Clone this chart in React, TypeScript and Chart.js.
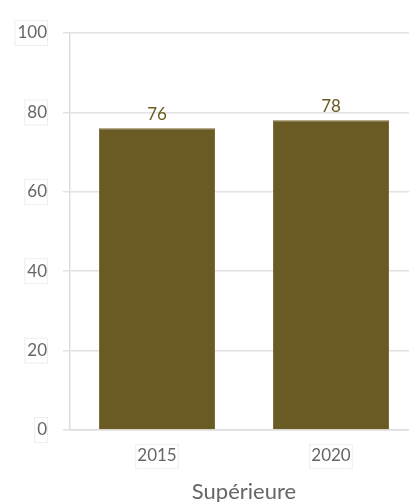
import React, { useEffect, useRef } from "react";
import { Chart, registerables } from "chart.js";

Chart.register(...registerables);

const categories = ["2015", "2020"];
const values = [76, 78];
const yTicks = [0, 20, 40, 60, 80, 100];
const axisTitle = "Supérieure";

const FONT = "Lato, 'Noto Sans', sans-serif";

const labelPlugin = {
  id: "barLabels",
  afterDatasetsDraw(chart: any) {
    const ctx = chart.ctx;
    const meta = chart.getDatasetMeta(0);
    ctx.save();
    ctx.font = `17px ${FONT}`;
    ctx.fillStyle = "#6b5a23";
    ctx.textAlign = "center";
    ctx.textBaseline = "middle";
    meta.data.forEach((bar: any, i: number) => {
      ctx.fillText(String(values[i]), bar.x, bar.y - 14);
    });
    ctx.restore();
  },
};

const tickBoxPlugin = {
  id: "tickBoxes",
  afterDraw(chart: any) {
    const ctx = chart.ctx;
    ctx.save();
    ctx.strokeStyle = "#eeeeee";
    ctx.lineWidth = 1;
    ctx.font = `17px ${FONT}`;
    const ys = chart.scales.y;
    ys.ticks.forEach((t: any, i: number) => {
      const y = ys.getPixelForTick(i);
      const w = ctx.measureText(String(t.value)).width;
      const right = 47;
      ctx.strokeRect(right - w - 2.5, y - 12.5, w + 3, 25);
    });
    const xs = chart.scales.x;
    categories.forEach((c, i) => {
      const x = xs.getPixelForTick(i);
      const w = ctx.measureText(c).width;
      ctx.strokeRect(x - w / 2 - 1.5, 444.5, w + 3, 24);
    });
    ctx.restore();
  },
};

export default function App() {
  const ref = useRef<HTMLCanvasElement>(null);
  useEffect(() => {
    if (!ref.current) return;
    const chart = new Chart(ref.current, {
      type: "bar",
      data: {
        labels: categories,
        datasets: [
          {
            data: values,
            backgroundColor: "#6a5a24",
            borderColor: "#7d6d3a",
            borderWidth: 1,
            barPercentage: 0.667,
            categoryPercentage: 1,
          },
        ],
      },
      options: {
        animation: false,
        responsive: true,
        maintainAspectRatio: false,
        layout: { padding: { top: 33, right: 0, left: 0, bottom: 0 } },
        plugins: { legend: { display: false }, tooltip: { enabled: false } },
        scales: {
          x: {
            grid: { display: false },
            border: { display: true, color: "#dddddd", width: 1.5 },
            ticks: {
              color: "#666666",
              font: { family: FONT, size: 17 },
              padding: 7,
            },
            title: {
              display: true,
              text: axisTitle,
              color: "#666666",
              font: { family: FONT, size: 22 },
              padding: { top: 4, bottom: -3 },
            },
            afterFit(scale: any) {
              scale.height = 72;
            },
          },
          y: {
            min: 0,
            max: 100,
            afterBuildTicks(scale: any) {
              scale.ticks = yTicks.map((v) => ({ value: v }));
            },
            grid: {
              color: "#e2e2e2",
              lineWidth: 1.5,
              tickLength: 7,
            },
            border: { display: true, color: "#dddddd", width: 1.5 },
            ticks: {
              color: "#666666",
              font: { family: FONT, size: 17 },
              padding: 16,
            },
            afterFit(scale: any) {
              scale.width = 70;
            },
          },
        },
      },
      plugins: [labelPlugin, tickBoxPlugin],
    });
    return () => chart.destroy();
  }, []);
  return (
    <div style={{ position: "fixed", left: 0, top: 0, width: 418, height: 502 }}>
      <canvas ref={ref} />
    </div>
  );
}
